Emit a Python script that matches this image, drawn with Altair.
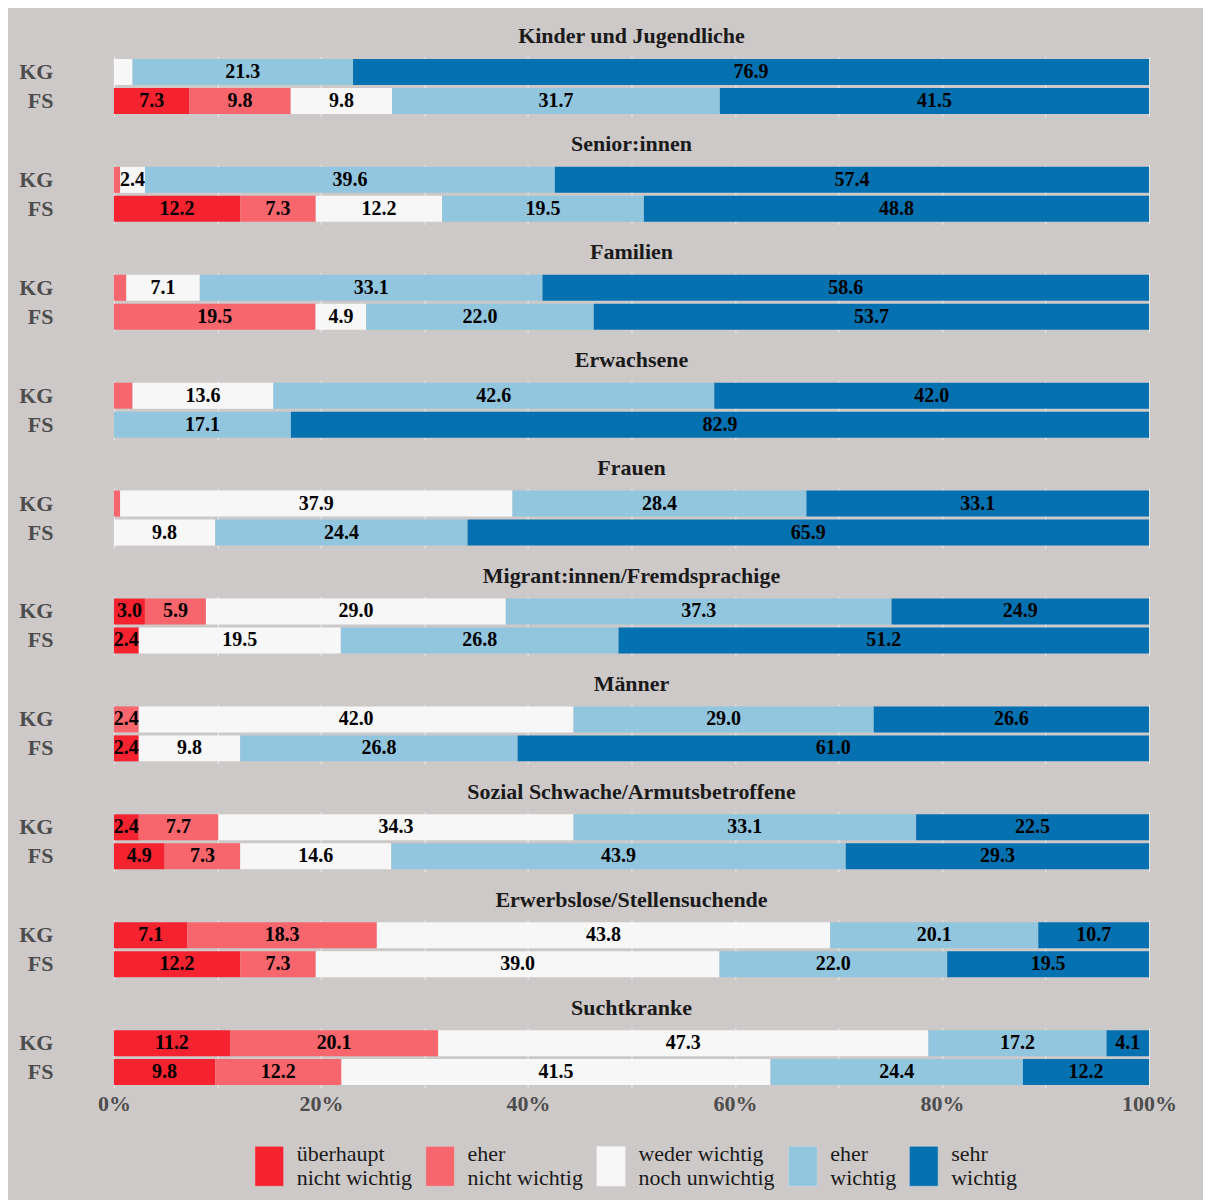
import altair as alt
import pandas as pd

groups = [
    "Kinder und Jugendliche", "Senior:innen", "Familien", "Erwachsene", "Frauen",
    "Migrant:innen/Fremdsprachige", "Männer", "Sozial Schwache/Armutsbetroffene",
    "Erwerbslose/Stellensuchende", "Suchtkranke",
]
units = ["KG", "FS"]
categories = [
    "überhaupt\nnicht wichtig", "eher\nnicht wichtig", "weder wichtig\nnoch unwichtig",
    "eher\nwichtig", "sehr\nwichtig",
]
colors = ["#f5222f", "#f8666d", "#f7f7f7", "#92c5de", "#0571b0"]

kg_ueberhaupt = [0, 0, 0, 0, 0, 3.0, 0, 2.4, 7.1, 11.2]
kg_eher_nicht = [0, 0.6, 1.2, 1.8, 0.6, 5.9, 2.4, 7.7, 18.3, 20.1]
kg_weder = [1.8, 2.4, 7.1, 13.6, 37.9, 29.0, 42.0, 34.3, 43.8, 47.3]
kg_eher = [21.3, 39.6, 33.1, 42.6, 28.4, 37.3, 29.0, 33.1, 20.1, 17.2]
kg_sehr = [76.9, 57.4, 58.6, 42.0, 33.1, 24.9, 26.6, 22.5, 10.7, 4.1]

fs_ueberhaupt = [7.3, 12.2, 0, 0, 0, 2.4, 2.4, 4.9, 12.2, 9.8]
fs_eher_nicht = [9.8, 7.3, 19.5, 0, 0, 0, 0, 7.3, 7.3, 12.2]
fs_weder = [9.8, 12.2, 4.9, 0, 9.8, 19.5, 9.8, 14.6, 39.0, 41.5]
fs_eher = [31.7, 19.5, 22.0, 17.1, 24.4, 26.8, 26.8, 43.9, 22.0, 24.4]
fs_sehr = [41.5, 48.8, 53.7, 82.9, 65.9, 51.2, 61.0, 29.3, 19.5, 12.2]

grid_values = [0, 0.1, 0.2, 0.3, 0.4, 0.5, 0.6, 0.7, 0.8, 0.9, 1.0]

series = {
    "KG": [kg_ueberhaupt, kg_eher_nicht, kg_weder, kg_eher, kg_sehr],
    "FS": [fs_ueberhaupt, fs_eher_nicht, fs_weder, fs_eher, fs_sehr],
}

rows = []
for gi, g in enumerate(groups):
    for u in units:
        for ci, cat in enumerate(categories):
            rows.append({"group": g, "unit": u, "cat": cat, "rank": ci,
                         "value": series[u][ci][gi]})
df = pd.DataFrame(rows)

FONT = "Liberation Serif"
W = 1036
H = 60

legend = alt.Legend(
    title=None, orient="none", direction="horizontal", legendX=135, legendY=1090,
    symbolType="M-0.72,-1L0.72,-1L0.72,1L-0.72,1Z", symbolSize=1600,
    symbolStrokeWidth=0.5, symbolStrokeColor="#dddddd", symbolOpacity=1,
    labelFont=FONT, labelFontSize=22, labelColor="#1a1a1a", labelOffset=7,
    labelBaseline="bottom",
    columnPadding=7, labelExpr="split(datum.label, '\\n')", labelLimit=300,
)


def panel(g, last):
    base = (
        alt.Chart(df)
        .transform_filter(alt.datum.group == g)
        .transform_stack(
            stack="value", groupby=["unit"], as_=["x0", "x1"],
            sort=[alt.SortField("rank", order="ascending")], offset="normalize",
        )
        .transform_calculate(mid="(datum.x0 + datum.x1) / 2")
    )
    yaxis = alt.Axis(ticks=False, domain=False, labelFontWeight="bold", labelFontSize=22,
                     labelColor="#4d4d4d", labelFont=FONT, labelPadding=61)
    yscale = alt.Scale(paddingInner=0.103, paddingOuter=0.086)
    xaxis = alt.Axis(
        values=grid_values, grid=True, gridColor="#ececec", gridWidth=1, ticks=False,
        domain=False, labels=last, labelFont=FONT, labelFontSize=22, labelFontWeight="bold",
        labelColor="#4d4d4d", labelPadding=6, labelFlush=False,
        labelExpr="round(datum.value*10) % 2 == 0 ? format(datum.value, '.0%') : ''",
    )
    xscale = alt.Scale(domain=[0, 1], nice=False)
    bars = base.mark_bar().encode(
        x=alt.X("x0:Q", title=None, scale=xscale, axis=xaxis),
        x2="x1:Q",
        y=alt.Y("unit:N", sort=units, title=None, scale=yscale, axis=yaxis),
        color=alt.Color("cat:N", scale=alt.Scale(domain=categories, range=colors), legend=legend),
    )
    text = base.transform_filter(alt.datum.value >= 2).mark_text(
        font=FONT, fontWeight="bold", fontSize=20, color="black", baseline="middle"
    ).encode(
        x=alt.X("mid:Q", title=None, scale=xscale, axis=xaxis),
        y=alt.Y("unit:N", sort=units, title=None, scale=yscale, axis=yaxis),
        text=alt.Text("value:Q", format=".1f"),
    )
    return alt.layer(bars, text).properties(
        width=W, height=H,
        title=alt.TitleParams(g, font=FONT, fontSize=22, fontWeight="bold", color="#1a1a1a",
                              anchor="middle", frame="group", offset=8),
    )


chart = alt.vconcat(*[panel(g, i == len(groups) - 1) for i, g in enumerate(groups)], spacing=17)
chart = chart.properties(
    background="#cdc9c8",
    padding={"left": 10, "top": 17, "right": 26, "bottom": 10},
).configure_view(stroke=None)

chart.save("out.html", embed_options={"renderer": "svg", "actions": False})
